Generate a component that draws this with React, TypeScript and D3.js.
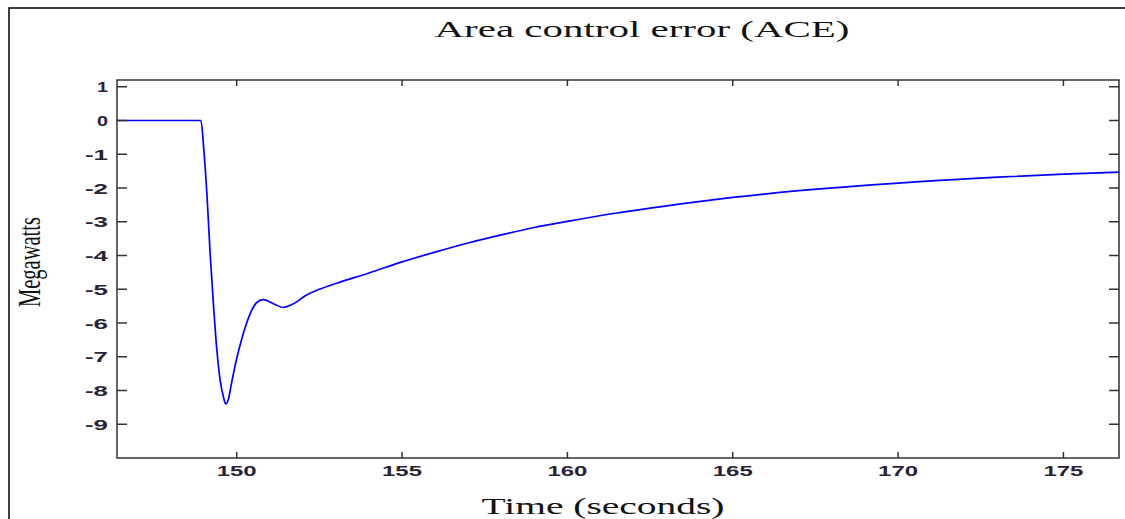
import React from "react";
import * as d3 from "d3";

// time (s) and area control error (MW)
const times = [
  146.38, 148.92, 149.0, 149.1, 149.2, 149.3, 149.4, 149.5, 149.6, 149.67,
  149.75, 149.85, 150.0, 150.15, 150.3, 150.45, 150.6, 150.8, 151.1, 151.4,
  151.7, 152.1, 152.5, 153.0, 154.0, 155.0, 156.0, 157.0, 158.0, 159.0,
  160.0, 161.5, 163.0, 165.0, 167.0, 169.0, 171.0, 173.0, 175.0, 176.7,
];
const ace = [
  0, 0, -0.8, -2.2, -4.0, -5.5, -6.8, -7.7, -8.2, -8.4,
  -8.25, -7.75, -7.05, -6.48, -6.0, -5.63, -5.4, -5.31, -5.42, -5.54,
  -5.44, -5.18, -5.0, -4.83, -4.52, -4.19, -3.9, -3.63, -3.39, -3.17,
  -2.99, -2.74, -2.53, -2.28, -2.08, -1.92, -1.79, -1.68, -1.59, -1.53,
];

const xTicks = [150, 155, 160, 165, 170, 175];
const yTicks = [1, 0, -1, -2, -3, -4, -5, -6, -7, -8, -9];

const title = "Area control error (ACE)";
const xLabel = "Time (seconds)";
const yLabel = "Megawatts";

const W = 1125;
const H = 519;
const box = { left: 117, top: 80, right: 1119, bottom: 458 };

export default function App() {
  const x = d3.scaleLinear().domain([146.38, 176.68]).range([box.left, box.right]);
  const y = d3.scaleLinear().domain([-10, 1.2]).range([box.bottom, box.top]);

  const points: [number, number][] = times.map((t, i) => [t, ace[i]]);
  const line = d3
    .line<[number, number]>()
    .x((d) => x(d[0]))
    .y((d) => y(d[1]))
    .curve(d3.curveMonotoneX);

  const tickFont = "'Liberation Sans', Arial, sans-serif";
  const serif = "'Liberation Serif', 'Times New Roman', serif";

  return (
    <div style={{ position: "fixed", left: 0, top: 0 }}>
      <svg width={W} height={H} style={{ display: "block", background: "#fff" }}>
        {/* outer figure frame, cut off at right and bottom */}
        <rect x={9} y={8} width={W + 20} height={H + 20} fill="none" stroke="#111" strokeWidth={1.6} />

        <text x={642} y={37} fontFamily={serif} fontSize={23} fill="#111"
          textAnchor="middle" textLength={415} lengthAdjust="spacingAndGlyphs">
          {title}
        </text>

        <path d={line(points) || ""} fill="none" stroke="#0000ff" strokeWidth={1.7} />

        {/* plot box */}
        <rect x={box.left} y={box.top} width={box.right - box.left} height={box.bottom - box.top}
          fill="none" stroke="#333" strokeWidth={1.5} />

        {xTicks.map((t) => (
          <g key={"x" + t}>
            <line x1={x(t)} x2={x(t)} y1={box.bottom} y2={box.bottom - 6} stroke="#333" strokeWidth={1.5} />
            <line x1={x(t)} x2={x(t)} y1={box.top} y2={box.top + 6} stroke="#333" strokeWidth={1.5} />
            <text x={x(t)} y={476} fontFamily={tickFont} fontWeight="bold" fontSize={15.5} fill="#2b2238"
              textAnchor="middle" textLength={40} lengthAdjust="spacingAndGlyphs">
              {t}
            </text>
          </g>
        ))}

        {yTicks.map((v) => (
          <g key={"y" + v}>
            <line x1={box.left} x2={box.left + 10} y1={y(v)} y2={y(v)} stroke="#333" strokeWidth={1.5} />
            <line x1={box.right} x2={box.right - 10} y1={y(v)} y2={y(v)} stroke="#333" strokeWidth={1.5} />
            <text x={108} y={y(v) + 5.5} fontFamily={tickFont} fontWeight="bold" fontSize={15.5} fill="#2b2238"
              textAnchor="end" textLength={v < 0 ? 23 : 11} lengthAdjust="spacingAndGlyphs">
              {v}
            </text>
          </g>
        ))}

        <text x={603} y={514} fontFamily={serif} fontSize={23} fill="#111"
          textAnchor="middle" textLength={243} lengthAdjust="spacingAndGlyphs">
          {xLabel}
        </text>

        <text transform="translate(40,262) rotate(-90)" fontFamily={serif} fontSize={32} fill="#111"
          textAnchor="middle" textLength={90} lengthAdjust="spacingAndGlyphs">
          {yLabel}
        </text>
      </svg>
    </div>
  );
}
